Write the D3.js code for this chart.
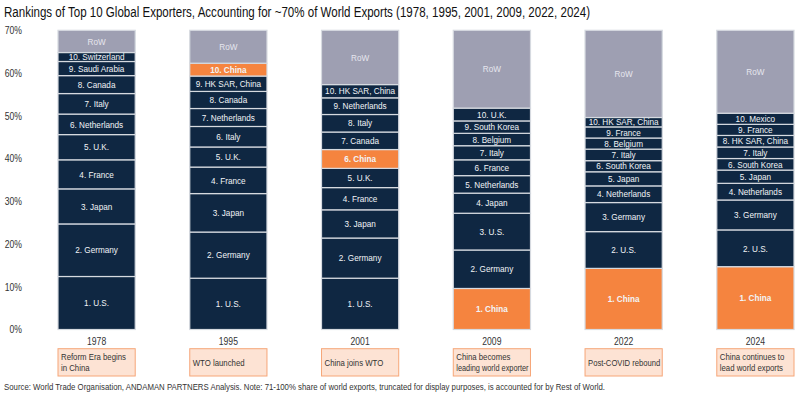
<!DOCTYPE html>
<html>
<head>
<meta charset="utf-8">
<script src="https://cdn.jsdelivr.net/npm/d3@7"></script>
<style>
  body { margin: 0; background: #fff; }
  svg { display: block; font-family: "Liberation Sans", Arial, sans-serif; }
</style>
</head>
<body>
<div id="chart"></div>
<script>
// Years shown on the x axis
const years = ["1978", "1995", "2001", "2009", "2022", "2024"]

// Top 10 exporters for each year, rank order (1 = bottom of the bar)
const countries1978 = ["U.S.", "Germany", "Japan", "France", "U.K.", "Netherlands", "Italy", "Canada", "Saudi Arabia", "Switzerland"]
const shares1978 = [12.4, 12.3, 8.2, 6.8, 5.9, 4.8, 4.8, 4.2, 3.3, 2.1]

const countries1995 = ["U.S.", "Germany", "Japan", "France", "U.K.", "Italy", "Netherlands", "Canada", "HK SAR, China", "China"]
const shares1995 = [12.0, 10.8, 9.0, 6.2, 4.7, 4.8, 4.2, 4.0, 3.6, 3.0]

const countries2001 = ["U.S.", "Germany", "Japan", "France", "U.K.", "China", "Canada", "Italy", "Netherlands", "HK SAR, China"]
const shares2001 = [12.0, 9.4, 6.6, 5.2, 4.5, 4.4, 4.1, 4.1, 3.9, 3.1]

const countries2009 = ["China", "Germany", "U.S.", "Japan", "Netherlands", "France", "Italy", "Belgium", "South Korea", "U.K."]
const shares2009 = [9.6, 9.0, 8.6, 4.7, 4.1, 3.7, 3.3, 2.9, 2.9, 3.0]

const countries2022 = ["China", "U.S.", "Germany", "Netherlands", "Japan", "South Korea", "Italy", "Belgium", "France", "HK SAR, China"]
const shares2022 = [14.3, 8.6, 6.8, 3.9, 3.3, 2.6, 2.7, 2.6, 2.6, 2.2]

const countries2024 = ["China", "U.S.", "Germany", "Netherlands", "Japan", "South Korea", "Italy", "HK SAR, China", "France", "Mexico"]
const shares2024 = [14.7, 8.6, 7.0, 3.9, 3.1, 2.7, 2.7, 2.7, 2.6, 2.6]

// Milestone notes under each bar
const notes = [
  ["Reform Era begins", "in China"],
  ["WTO launched"],
  ["China joins WTO"],
  ["China becomes", "leading world exporter"],
  ["Post-COVID rebound"],
  ["China continues to", "lead world exports"]
]

const yTicks = [0, 10, 20, 30, 40, 50, 60, 70]
const yMax = 70

const allCountries = [countries1978, countries1995, countries2001, countries2009, countries2022, countries2024]
const allShares = [shares1978, shares1995, shares2001, shares2009, shares2022, shares2024]

const navy = "#0f2742"
const orange = "#f5843f"
const rowGrey = "#9e9fb2"

const width = 800
const height = 395

// no narrow font installed, so squeeze the text like Arial Narrow (and cap to a max width)
const squeeze = (sel, k = 0.82, maxW = Infinity) => sel.each(function () {
  const w = Math.min(this.getComputedTextLength() * k, maxW)
  d3.select(this).attr("textLength", w).attr("lengthAdjust", "spacingAndGlyphs")
})

const svg = d3.select("#chart").append("svg")
  .attr("width", width)
  .attr("height", height)

svg.append("text")
  .attr("x", 4)
  .attr("y", 17)
  .attr("font-size", 14)
  .attr("fill", "#111")
  .attr("textLength", 586)
  .attr("lengthAdjust", "spacingAndGlyphs")
  .text("Rankings of Top 10 Global Exporters, Accounting for ~70% of World Exports (1978, 1995, 2001, 2009, 2022, 2024)")

const x = d3.scaleBand()
  .domain(years)
  .range([58, 794])
  .paddingInner(0.414)
  .paddingOuter(0)

const y = d3.scaleLinear()
  .domain([0, yMax])
  .range([329.5, 30.3])

// y axis, labels only
const yAxis = svg.append("g")
  .attr("transform", "translate(23,0)")
  .call(d3.axisLeft(y).tickValues(yTicks).tickFormat(d => d + "%").tickSize(0).tickPadding(1))
yAxis.select(".domain").remove()
yAxis.selectAll("text")
  .attr("font-size", 10.5)
  .attr("font-family", null)
  .attr("fill", "#333")
  .call(squeeze)

// build stacked segments per year
years.forEach((yr, i) => {
  const names = allCountries[i]
  const vals = allShares[i]
  let acc = 0
  const segs = names.map((n, j) => {
    const s = { label: `${j + 1}. ${n}`, china: n === "China", y0: acc, y1: acc + vals[j] }
    acc += vals[j]
    return s
  })
  segs.push({ label: "RoW", row: true, y0: acc, y1: yMax })

  const g = svg.append("g")

  g.selectAll("rect")
    .data(segs)
    .join("rect")
    .attr("x", x(yr))
    .attr("width", x.bandwidth())
    .attr("y", d => y(d.y1))
    .attr("height", d => y(d.y0) - y(d.y1))
    .attr("fill", d => d.row ? rowGrey : d.china ? orange : navy)
    .attr("stroke", "#d6dae0")
    .attr("stroke-width", 1.2)

  g.selectAll("text")
    .data(segs)
    .join("text")
    .attr("x", x(yr) + x.bandwidth() / 2)
    .attr("y", d => (y(d.y0) + y(d.y1)) / 2)
    .attr("dy", "0.35em")
    .attr("text-anchor", "middle")
    .attr("font-size", 9.2)
    .attr("font-weight", d => d.china ? "bold" : null)
    .attr("fill", d => d.row ? "#e6e6ee" : "#f2f4f7")
    .text(d => d.label)
    .call(squeeze, 0.89, x.bandwidth() - 6)

  // year label
  svg.append("text")
    .attr("x", x(yr) + x.bandwidth() / 2)
    .attr("y", 341)
    .attr("dy", "0.35em")
    .attr("text-anchor", "middle")
    .attr("font-size", 10.5)
    .attr("fill", "#333")
    .text(yr)
    .call(squeeze)

  // note box
  svg.append("rect")
    .attr("x", x(yr))
    .attr("y", 348.7)
    .attr("width", x.bandwidth())
    .attr("height", 27.3)
    .attr("fill", "#fde3d4")
    .attr("stroke", "#f6a678")
    .attr("stroke-width", 1)

  const lines = notes[i]
  const mid = 362.3
  svg.append("g").selectAll("text")
    .data(lines)
    .join("text")
    .attr("x", x(yr) + 3)
    .attr("y", (d, k) => mid + (k - (lines.length - 1) / 2) * 11)
    .attr("dy", "0.35em")
    .attr("font-size", 9.5)
    .attr("fill", "#333")
    .text(d => d)
    .call(squeeze, 0.82, x.bandwidth() - 5)
})

svg.append("text")
  .attr("x", 4)
  .attr("y", 390)
  .attr("font-size", 9.3)
  .attr("fill", "#333")
  .attr("textLength", 601)
  .attr("lengthAdjust", "spacingAndGlyphs")
  .text("Source: World Trade Organisation, ANDAMAN PARTNERS Analysis. Note: 71-100% share of world exports, truncated for display purposes, is accounted for by Rest of World.")
</script>
</body>
</html>
